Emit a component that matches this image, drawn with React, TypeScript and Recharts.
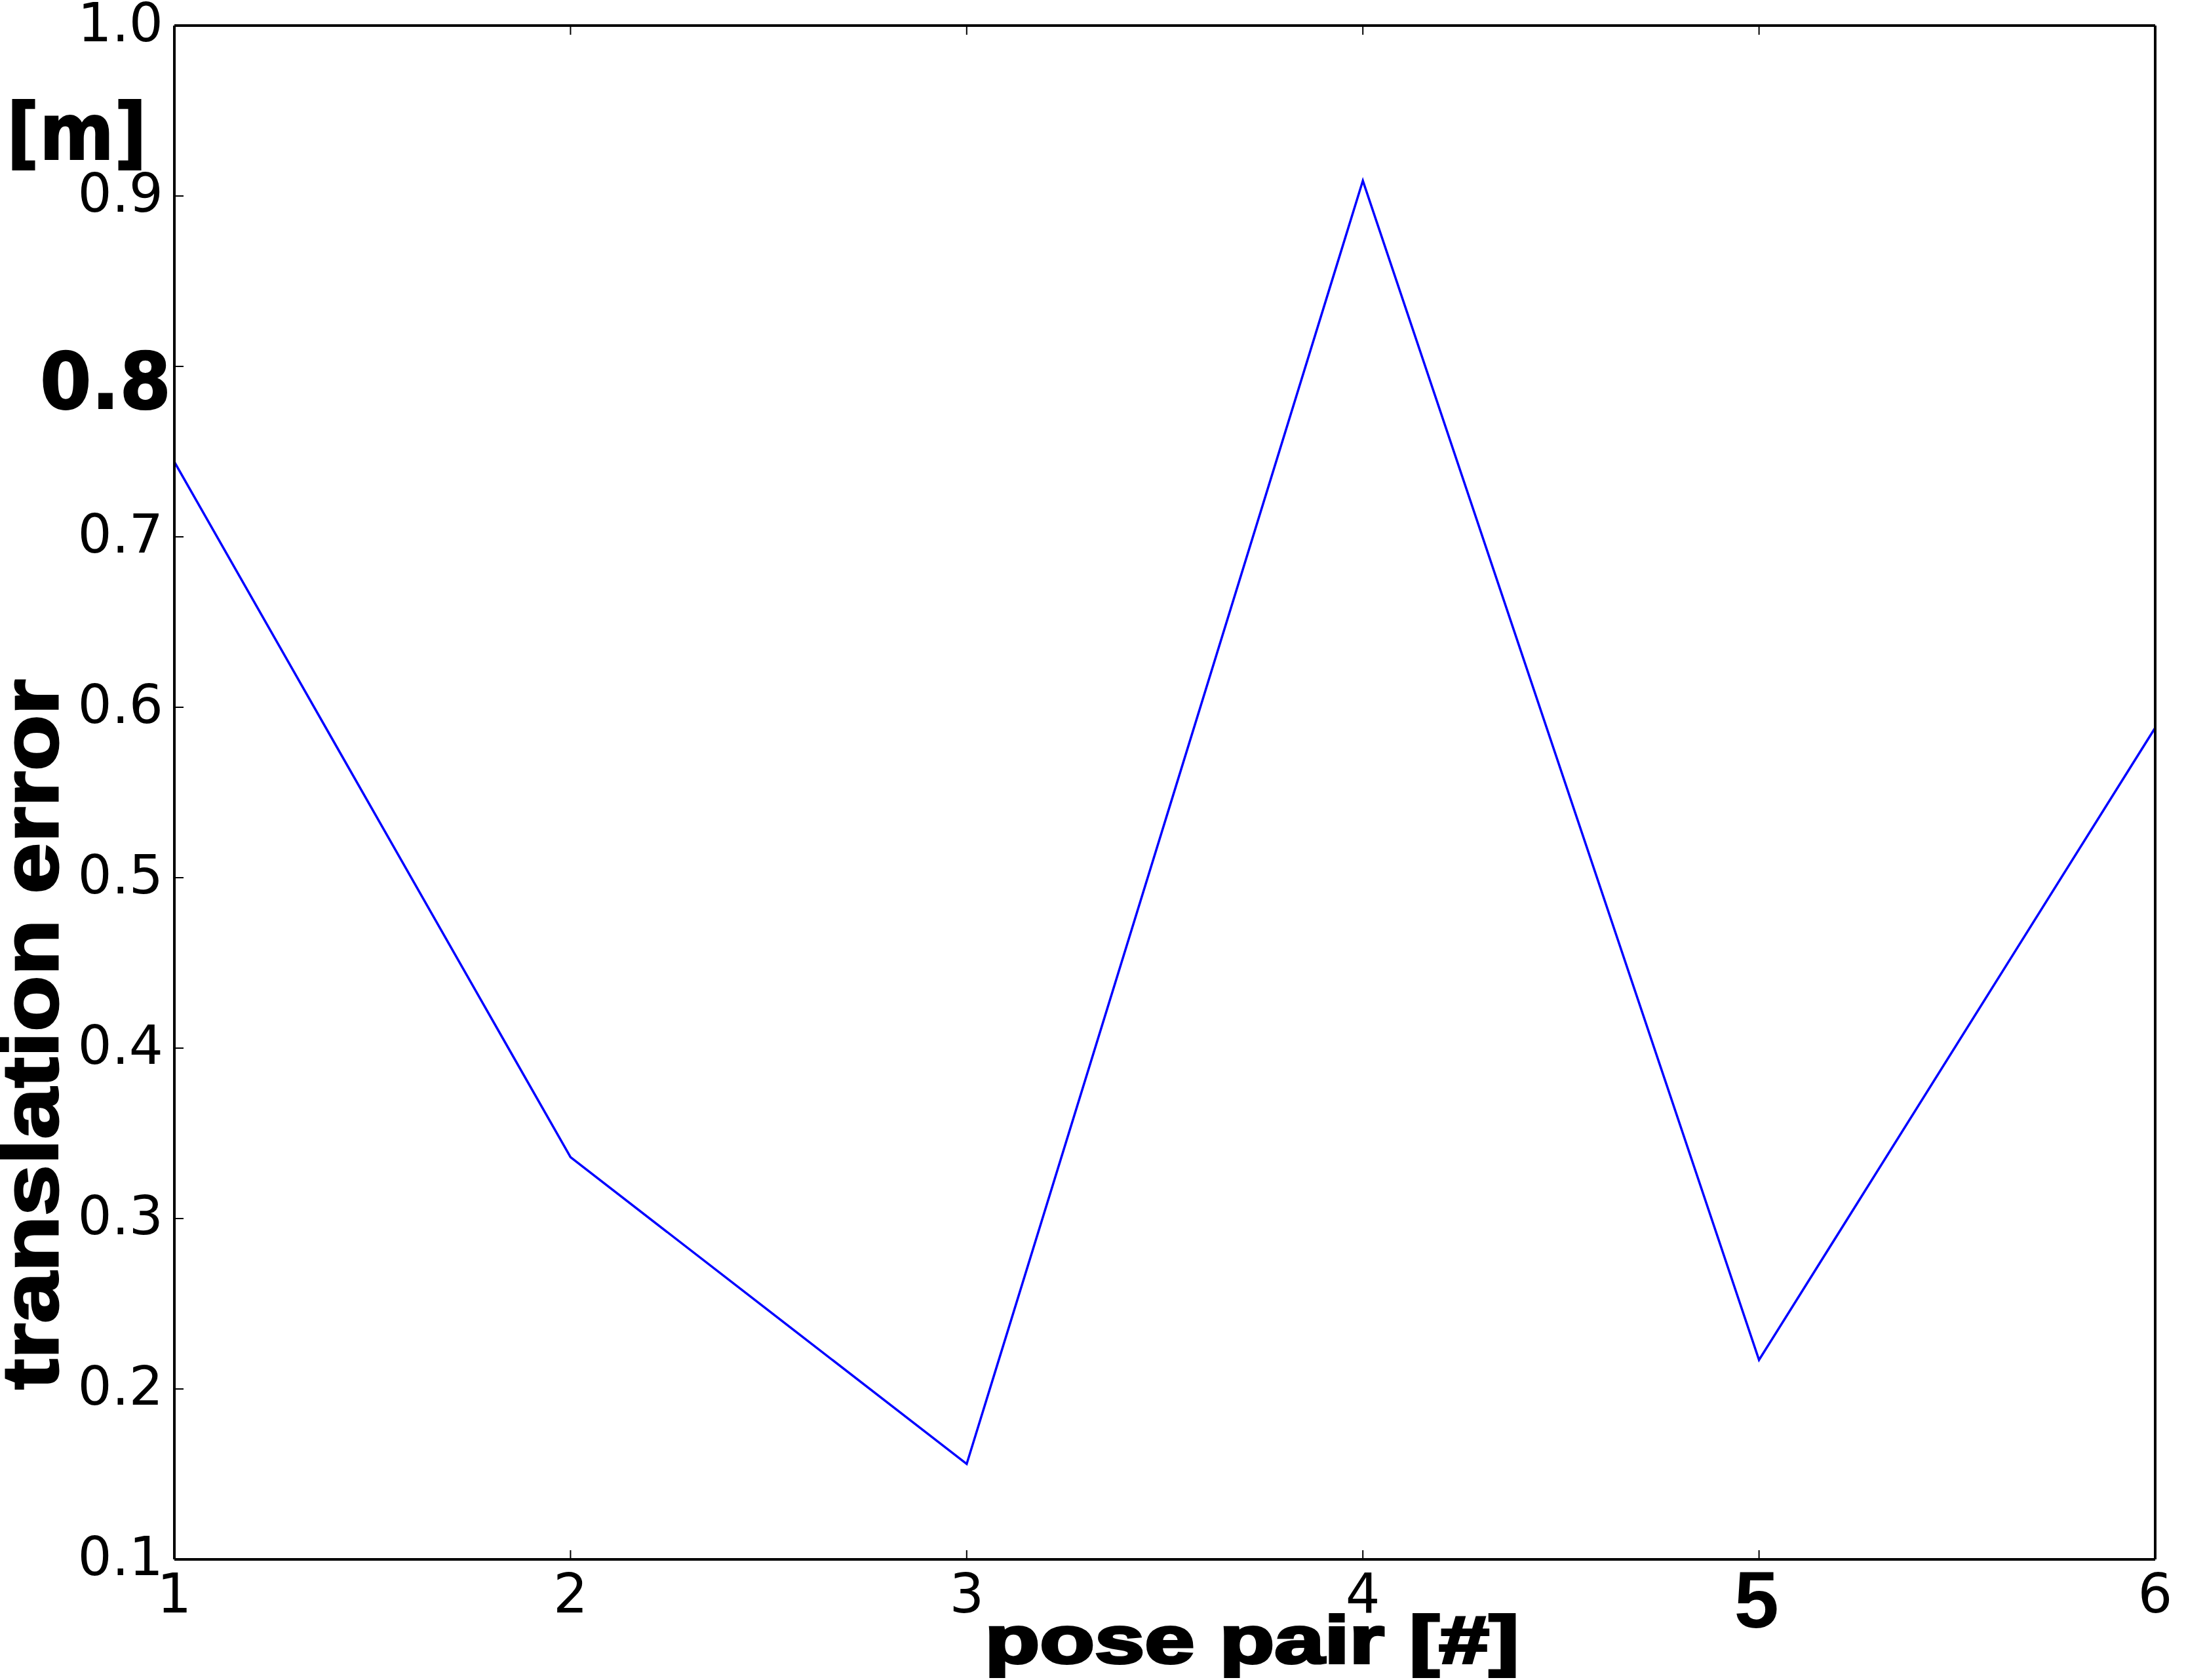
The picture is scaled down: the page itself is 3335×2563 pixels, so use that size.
import React from 'react';
import { LineChart, Line, XAxis, YAxis } from 'recharts';

// pose pair index and translation error [m]
const posePairs = [1, 2, 3, 4, 5, 6];
const translationErrors = [0.744, 0.336, 0.156, 0.909, 0.217, 0.588];

const xTicks = [1, 2, 3, 4, 5, 6];
const yTicks = [0.1, 0.2, 0.3, 0.4, 0.5, 0.6, 0.7, 0.8, 0.9, 1.0];
const yTickLabels = ['0.1', '0.2', '0.3', '0.4', '0.5', '0.6', '0.7', '0.8', '0.9', '1.0'];

const data = posePairs.map((p, i) => ({ pair: p, error: translationErrors[i] }));

const W = 3335;
const H = 2563;
const tickFont = 'DejaVu Sans';
const boldFont = 'Liberation Sans';

const XTick = (props: any) => {
  const { x, y, payload } = props;
  if (payload.value === 5) {
    return (
      <text x={x - 4} y={y + 104} textAnchor="middle" fontFamily={boldFont} fontWeight="bold" fontSize={123} fill="#000">
        5
      </text>
    );
  }
  return (
    <text x={x} y={y + 81} textAnchor="middle" fontFamily={tickFont} fontSize={83} fill="#000">
      {payload.value}
    </text>
  );
};

const YTick = (props: any) => {
  const { x, y, payload } = props;
  const idx = yTicks.findIndex((t) => Math.abs(t - payload.value) < 1e-6);
  const label = idx >= 0 ? yTickLabels[idx] : String(payload.value);
  if (label === '0.8') {
    return (
      <text
        x={x - 5}
        y={y + 64}
        textAnchor="end"
        fontFamily={tickFont}
        fontWeight="bold"
        fontSize={119}
        textLength={200}
        lengthAdjust="spacingAndGlyphs"
        stroke="#000"
        strokeWidth={2}
        fill="#000"
      >
        {label}
      </text>
    );
  }
  return (
    <text x={x - 17} y={y + 24} textAnchor="end" fontFamily={tickFont} fontSize={82} fill="#000">
      {label}
    </text>
  );
};

const NoTick = () => <g />;

const axisLine = { stroke: '#000', strokeWidth: 4 };
const tickLine = { stroke: '#000', strokeWidth: 2 };

export default function App() {
  return (
    <div style={{ position: 'absolute', left: 0, top: 0, width: W, height: H, background: '#fff' }}>
      <LineChart width={W} height={H} data={data} margin={{ top: 0, right: 0, left: 0, bottom: 0 }}>
        <XAxis
          dataKey="pair"
          type="number"
          domain={[1, 6]}
          ticks={xTicks}
          interval={0}
          height={184}
          axisLine={axisLine}
          tickLine={tickLine}
          tickSize={-14}
          tickMargin={14}
          tick={XTick}
        />
        <XAxis
          xAxisId="top"
          orientation="top"
          dataKey="pair"
          type="number"
          domain={[1, 6]}
          ticks={xTicks}
          interval={0}
          height={39}
          axisLine={axisLine}
          tickLine={tickLine}
          tickSize={-14}
          tick={NoTick}
        />
        <YAxis
          type="number"
          domain={[0.1, 1.0]}
          ticks={yTicks}
          interval={0}
          width={266}
          axisLine={axisLine}
          tickLine={tickLine}
          tickSize={-14}
          tickMargin={14}
          tick={YTick}
        />
        <YAxis
          yAxisId="right"
          orientation="right"
          type="number"
          domain={[0.1, 1.0]}
          ticks={yTicks}
          interval={0}
          width={47}
          axisLine={axisLine}
          tickLine={tickLine}
          tickSize={-14}
          tick={NoTick}
        />
        <Line
          type="linear"
          dataKey="error"
          stroke="#0000ff"
          strokeWidth={3.5}
          dot={false}
          activeDot={false}
          isAnimationActive={false}
        />
      </LineChart>
      <svg width={W} height={H} style={{ position: 'absolute', left: 0, top: 0, pointerEvents: 'none' }}>
        <text
          x={10}
          y={243}
          fontFamily={tickFont}
          fontWeight="bold"
          fontSize={120}
          textLength={214}
          lengthAdjust="spacingAndGlyphs"
          stroke="#000"
          strokeWidth={2}
          fill="#000"
        >
          [m]
        </text>
        <text
          x={88}
          y={1578}
          transform="rotate(-90 88 1578)"
          textAnchor="middle"
          fontFamily={boldFont}
          fontWeight="bold"
          fontSize={120}
          textLength={1084}
          lengthAdjust="spacingAndGlyphs"
          stroke="#000"
          strokeWidth={3}
          fill="#000"
        >
          translation error
        </text>
        <text
          x={1910}
          y={2537}
          textAnchor="middle"
          fontFamily={boldFont}
          fontWeight="bold"
          fontSize={102}
          textLength={815}
          lengthAdjust="spacingAndGlyphs"
          stroke="#000"
          strokeWidth={4}
          fill="#000"
        >
          pose pair [#]
        </text>
      </svg>
    </div>
  );
}
